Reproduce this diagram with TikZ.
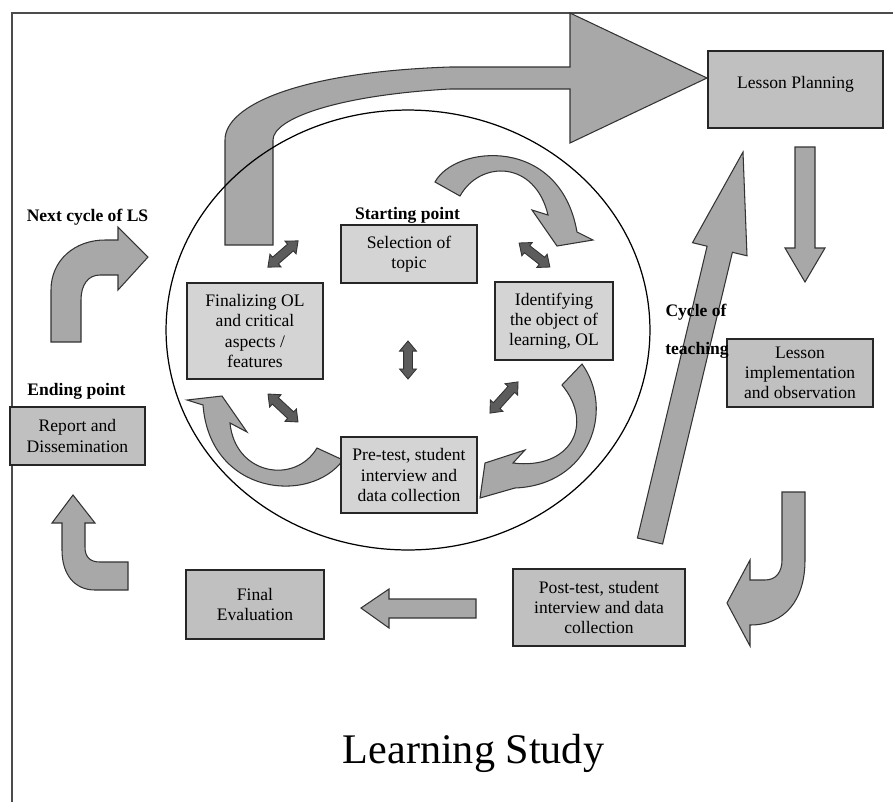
\documentclass[tikz,border=0pt]{standalone}
\usepackage{fontspec}
\setmainfont{Liberation Serif}
\usetikzlibrary{shapes.arrows,positioning}
\definecolor{boxlight}{RGB}{212,212,212}
\definecolor{boxmid}{RGB}{192,192,192}
\definecolor{arrowgray}{RGB}{168,168,168}
\definecolor{arrowdark}{RGB}{92,92,92}
\tikzset{
  every node/.style={
    font=\fontsize{10}{11.5}\selectfont
  },
  stage/.style={
    shape=rectangle,
    draw=black!85,
    line width=0.9pt,
    fill=boxmid,
    align=center,
    inner sep=0pt
  },
  inner stage/.style={
    stage,
    fill=boxlight
  },
  caption/.style={
    font=\bfseries\fontsize{10}{12}\selectfont,
    anchor=base
  },
  blockarrow/.style={
    draw=black!80,
    line width=0.6pt,
    fill=arrowgray,
    line join=miter
  },
  linkarrow/.style={
    double arrow,
    draw=black!80,
    line width=0.5pt,
    fill=arrowdark,
    inner xsep=0pt,
    inner ysep=0.08cm,
    double arrow head extend=0.08cm,
    double arrow tip angle=80
  }
}

\begin{document}
\begin{tikzpicture}[x=0.02cm,y=-0.02cm]
\useasboundingbox (0,0) rectangle (893,802);
\draw[line width=0.8pt, black!70] (893,13) -- (12,13) -- (12,802);

% block arrows of the outer cycle
\draw[blockarrow] (225,245) -- (225,140) .. controls (225,105) and (300,72) .. (450,67)
  -- (570,67) -- (570,13) -- (707,78) -- (570,143) -- (570,89) -- (450,89)
  .. controls (340,95) and (273,118) .. (273,140) -- (273,245) -- cycle;
\draw[blockarrow] (795,147) -- (815,147) -- (815,248) -- (825,248) -- (805,282)
  -- (785,248) -- (795,248) -- cycle;
\draw[blockarrow] (782,492) -- (805,492) -- (805,560) .. controls (805,600) and (785,625) .. (750,625)
  -- (750,646) -- (727,603) -- (750,560) -- (750,580) -- (765,580)
  .. controls (776,580) and (782,572) .. (782,560) -- cycle;
\draw[blockarrow] (476,599) -- (389,599) -- (389,589) -- (361,608) -- (389,628)
  -- (389,618) -- (476,618) -- cycle;
\draw[blockarrow] (128,562) -- (100,562) .. controls (90,562) and (85,557) .. (85,547)
  -- (85,523) -- (95,523) -- (73,495) -- (52,523) -- (62,523) -- (62,550)
  .. controls (62,575) and (75,590) .. (95,590) -- (128,590) -- cycle;
\draw[blockarrow] (51,342) -- (51,290) .. controls (51,260) and (75,240) .. (105,240)
  -- (118,240) -- (118,227) -- (148,257) -- (118,290) -- (118,275) -- (100,275)
  .. controls (88,275) and (81,285) .. (81,300) -- (81,342) -- cycle;
\draw[blockarrow] (637.4,538.0) -- (707.1,246.2) -- (692.5,242.7) -- (743,152)
  -- (747.0,255.8) -- (732.4,252.3) -- (662.6,544.0) -- cycle;

% block arrows inside the circle
\draw[blockarrow] (435,182) .. controls (455,145) and (560,135) .. (577,232)
  -- (593,240) -- (557,246) -- (532,210) -- (548,215)
  .. controls (535,160) and (480,160) .. (460,196) -- cycle;
\draw[blockarrow] (582,364) .. controls (615,410) and (590,485) .. (515,488)
  -- (480,498) -- (485,463) -- (525,450) -- (513,463)
  .. controls (570,470) and (595,425) .. (562,385) -- cycle;
\draw[blockarrow] (343,460) .. controls (310,505) and (210,495) .. (203,405)
  -- (187,400) -- (222,396) -- (247,432) -- (230,423)
  .. controls (235,475) and (295,485) .. (317,448) -- cycle;

\draw[line width=0.7pt] (408,330) ellipse [x radius=4.84cm, y radius=4.4cm];

% stages
\node[stage, minimum width=3.5cm, minimum height=1.54cm, text depth=0.3cm] (plan) at (795.5,89.5) {Lesson Planning};
\node[stage, minimum width=2.92cm, minimum height=1.36cm] (implement) at (800,373)
  {Lesson\\implementation\\and observation};
\node[stage, minimum width=3.44cm, minimum height=1.54cm] (posttest) at (599,607.5)
  {Post-test, student\\interview and data\\collection};
\node[stage, minimum width=2.76cm, minimum height=1.38cm] (final) at (255,604.5)
  {Final\\Evaluation};
\node[stage, minimum width=2.7cm, minimum height=1.16cm] (report) at (77.5,436)
  {Report and\\Dissemination};
\node[inner stage, minimum width=2.72cm, minimum height=1.16cm] (topic) at (409,254)
  {Selection of\\topic};
\node[inner stage, minimum width=2.36cm, minimum height=1.56cm] (identify) at (554,321)
  {Identifying\\the object of\\learning, OL};
\node[inner stage, minimum width=2.72cm, minimum height=1.92cm] (finalize) at (255,331)
  {Finalizing OL\\and critical\\aspects /\\features};
\node[inner stage, minimum width=2.72cm, minimum height=1.52cm] (pretest) at (409,475)
  {Pre-test, student\\interview and\\data collection};

% links between the inner stages
\node[linkarrow, minimum height=0.8cm, rotate=41] (link1) at (283,254) {};
\node[linkarrow, minimum height=0.78cm, rotate=-38] (link2) at (534.5,255) {};
\node[linkarrow, minimum height=0.76cm, rotate=90] (link3) at (408,360) {};
\node[linkarrow, minimum height=0.82cm, rotate=-43] (link4) at (283,408) {};
\node[linkarrow, minimum height=0.84cm, rotate=48] (link5) at (504,397.5) {};

\node[caption] (next) at (87.5,221) {Next cycle of LS};
\node[caption] (start) at (407.5,219) {Starting point};
\node[caption] (ending) at (76.5,395) {Ending point};
\node[caption] (teach1) at (696,316) {Cycle of};
\node[caption] (teach2) at (697,354) {teaching};
\node[anchor=base, font=\fontsize{24}{28}\selectfont] (title) at (473.5,763) {Learning Study};
\end{tikzpicture}
\end{document}
